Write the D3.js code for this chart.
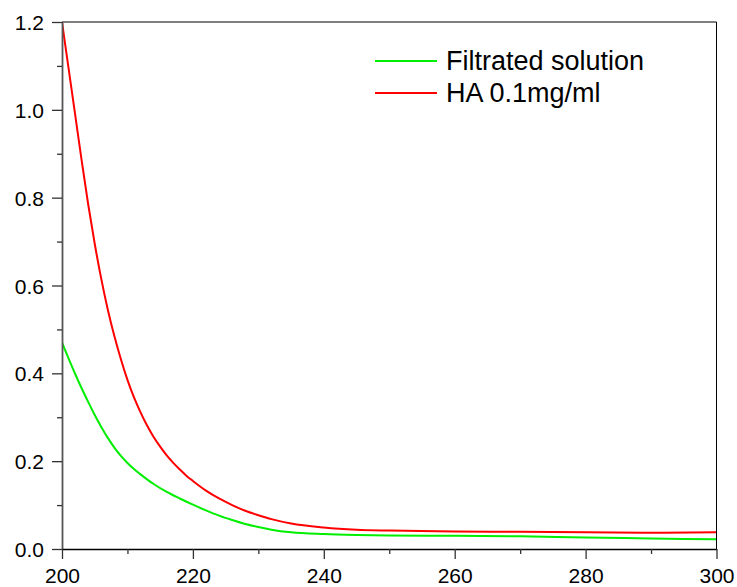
<!DOCTYPE html>
<html><head><meta charset="utf-8">
<script src="https://cdn.jsdelivr.net/npm/d3@7"></script>
<style>body{margin:0;background:#fff}svg{display:block}text{font-family:"Liberation Sans",Arial,sans-serif}</style>
</head><body><svg id="c" width="737" height="587"></svg>
<script>
const seriesNames = ["Filtrated solution", "HA 0.1mg/ml"];
const seriesColors = ["#00ee00", "#ff0000"];
const wlHA = [200,201,202,203,204,205,206,207,208,209,210,211,212,213,214,215,216,217,218,219,220,222,224,226,228,230,232,235,240,245,250,260,270,280,290,300];
const absHA = [1.20,1.095,0.99,0.885,0.785,0.695,0.615,0.545,0.485,0.432,0.385,0.345,0.311,0.281,0.255,0.233,0.213,0.196,0.181,0.167,0.155,0.133,0.115,0.100,0.087,0.077,0.068,0.058,0.049,0.044,0.042,0.040,0.039,0.038,0.037,0.038];
const wlFilt = [200,201,202,203,204,205,206,207,208,209,210,211,212,214,216,218,220,222,224,226,228,230,232,235,240,245,250,260,270,280,290,300];
const absFilt = [0.470,0.434,0.399,0.366,0.335,0.305,0.278,0.253,0.231,0.212,0.196,0.182,0.170,0.148,0.130,0.115,0.101,0.088,0.076,0.066,0.057,0.050,0.044,0.038,0.034,0.032,0.031,0.030,0.029,0.026,0.024,0.022];
const xMajor = [200,220,240,260,280,300];
const xMinor = [210,230,250,270,290];
const yMajor = [0.0,0.2,0.4,0.6,0.8,1.0,1.2];
const yMinor = [0.1,0.3,0.5,0.7,0.9,1.1];

const L=62, R=716.5, T=22, B=549;
const svg = d3.select("#c");
const x = d3.scaleLinear().domain([200,300]).range([L,R]);
const y = d3.scaleLinear().domain([0,1.2]).range([B,T]);

svg.append("clipPath").attr("id","cl").append("rect")
  .attr("x",L).attr("y",T).attr("width",R-L).attr("height",B-T);

const line = d3.line().x(d=>x(d[0])).y(d=>y(d[1])).curve(d3.curveMonotoneX);
const data = [d3.zip(wlFilt, absFilt), d3.zip(wlHA, absHA)];
const g = svg.append("g").attr("clip-path","url(#cl)");
data.forEach((d,i)=>{
  g.append("path").datum(d).attr("d",line).attr("fill","none")
   .attr("stroke",seriesColors[i]).attr("stroke-width",2);
});

// frame top/right
svg.append("line").attr("x1",L).attr("x2",R).attr("y1",T).attr("y2",T).attr("stroke","#000").attr("stroke-width",1);
svg.append("line").attr("x1",R).attr("x2",R).attr("y1",T).attr("y2",B).attr("stroke","#000").attr("stroke-width",1);

// left axis
const ya = svg.append("g").attr("transform",`translate(${L},0)`)
  .call(d3.axisLeft(y).tickValues(yMajor).tickSize(10).tickSizeOuter(0).tickFormat(d3.format(".1f")));
ya.select(".domain").attr("stroke","#555").attr("stroke-width",1.8);
ya.selectAll(".tick line").attr("stroke","#333").attr("stroke-width",1.3);
ya.selectAll("text").attr("font-size",21).attr("fill","#000").attr("x",-18).attr("dy","0.36em");
const ym = svg.append("g").attr("transform",`translate(${L},0)`)
  .call(d3.axisLeft(y).tickValues(yMinor).tickSize(5).tickSizeOuter(0).tickFormat(""));
ym.select(".domain").remove();
ym.selectAll(".tick line").attr("stroke","#333").attr("stroke-width",1.3);

// bottom axis
const xa = svg.append("g").attr("transform",`translate(0,${B})`)
  .call(d3.axisBottom(x).tickValues(xMajor).tickSize(10).tickSizeOuter(0).tickFormat(d3.format("d")));
xa.select(".domain").attr("stroke","#000").attr("stroke-width",1.5);
xa.selectAll(".tick line").attr("stroke","#333").attr("stroke-width",1.3);
xa.selectAll("text").attr("font-size",21).attr("fill","#000").attr("y",19).attr("dy","0.71em");
const xm = svg.append("g").attr("transform",`translate(0,${B})`)
  .call(d3.axisBottom(x).tickValues(xMinor).tickSize(5).tickSizeOuter(0).tickFormat(""));
xm.select(".domain").remove();
xm.selectAll(".tick line").attr("stroke","#333").attr("stroke-width",1.3);

// legend
const leg = svg.append("g");
seriesNames.forEach((n,i)=>{
  const yy = 61 + i*32;
  leg.append("line").attr("x1",375).attr("x2",437).attr("y1",yy).attr("y2",yy)
    .attr("stroke",seriesColors[i]).attr("stroke-width",2);
  leg.append("text").attr("x",446).attr("y",yy+9).attr("font-size",27).attr("fill","#000").text(n);
});
</script></body></html>
